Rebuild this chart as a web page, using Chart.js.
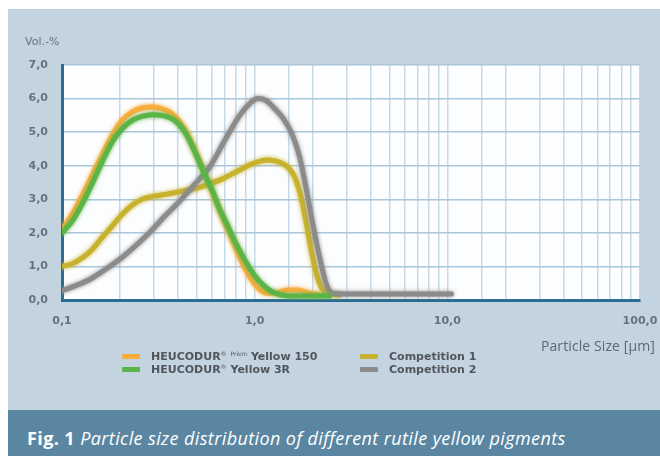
<!DOCTYPE html>
<html>
<head>
<meta charset="utf-8">
<script src="https://cdn.jsdelivr.net/npm/chart.js@4/dist/chart.umd.min.js"></script>
<style>
  html, body { margin: 0; padding: 0; background: #ffffff; }
  body { width: 660px; height: 456px; position: relative; overflow: hidden; font-family: "DejaVu Sans", sans-serif; }
  #panel { position: absolute; left: 8px; top: 9px; width: 652px; height: 401px; background: #c3d3df; }
  #band { position: absolute; left: 8px; top: 410px; width: 652px; height: 46px; background: #5b86a2; }
  #caption { position: absolute; left: 27px; top: 426px; color: #ffffff; font-family: "Open Sans", sans-serif; font-size: 18px; letter-spacing: 0.4px; white-space: nowrap; }
  #caption b { font-weight: 700; font-style: normal; }
  #caption i { font-style: italic; }
  #chartBox { position: absolute; left: 0; top: 0; width: 660px; height: 410px; }
  #ytitle { position: absolute; left: 25px; top: 35px; font-size: 11px; color: #66727c; }
  #xtitle { position: absolute; right: 5px; top: 336px; font-family: "Open Sans", sans-serif; font-size: 14px; letter-spacing: 0.1px; color: #5d6871; }
  .leg { position: absolute; display: flex; align-items: center; font-size: 11px; font-weight: bold; color: #50565c; white-space: nowrap; }
  .leg .sw { width: 18px; height: 5px; margin-right: 11px; border-radius: 1px; }
  .leg sup { font-size: 6px; font-weight: normal; vertical-align: 4px; }
</style>
</head>
<body>
<div id="panel"></div>
<div id="band"></div>
<div id="caption"><b>Fig. 1</b> <i>Particle size distribution of different rutile yellow pigments</i></div>
<div id="chartBox"><canvas id="c" width="660" height="410"></canvas></div>
<div id="ytitle">Vol.-%</div>
<div id="xtitle">Particle Size [µm]</div>
<div id="legend"></div>
<script>
// Particle size (µm) and volume share (%) for each pigment
const y150Size = [0.1, 0.113, 0.127, 0.143, 0.161, 0.182, 0.205, 0.231, 0.26, 0.293, 0.33, 0.372, 0.409, 0.45, 0.495, 0.544, 0.599, 0.659, 0.725, 0.797, 0.877, 0.965, 1.06, 1.17, 1.32, 1.48, 1.67, 1.88, 2.17];
const y150Vol  = [2.1, 2.55, 3.1, 3.7, 4.3, 4.9, 5.35, 5.6, 5.72, 5.75, 5.7, 5.55, 5.3, 4.92, 4.4, 3.85, 3.25, 2.65, 2.1, 1.55, 1.02, 0.6, 0.32, 0.2, 0.22, 0.3, 0.3, 0.22, 0.15];

const y3rSize = [0.1, 0.113, 0.127, 0.143, 0.161, 0.182, 0.205, 0.231, 0.26, 0.293, 0.33, 0.372, 0.409, 0.45, 0.495, 0.544, 0.599, 0.659, 0.725, 0.797, 0.877, 0.965, 1.06, 1.17, 1.28, 1.45, 1.71, 2.45];
const y3rVol  = [2.0, 2.35, 2.85, 3.45, 4.1, 4.7, 5.1, 5.35, 5.47, 5.52, 5.5, 5.4, 5.2, 4.85, 4.35, 3.8, 3.3, 2.7, 2.2, 1.7, 1.25, 0.85, 0.55, 0.33, 0.2, 0.13, 0.12, 0.12];

const comp1Size = [0.1, 0.113, 0.127, 0.143, 0.161, 0.182, 0.205, 0.231, 0.26, 0.293, 0.33, 0.372, 0.419, 0.472, 0.532, 0.599, 0.675, 0.76, 0.856, 0.965, 1.06, 1.17, 1.28, 1.41, 1.52, 1.63, 1.75, 1.86, 1.97, 2.1, 2.23, 2.39, 2.76];
const comp1Vol  = [1.0, 1.08, 1.25, 1.5, 1.85, 2.2, 2.55, 2.82, 3.0, 3.08, 3.13, 3.18, 3.24, 3.3, 3.38, 3.48, 3.6, 3.75, 3.9, 4.05, 4.13, 4.17, 4.14, 4.05, 3.9, 3.6, 3.0, 2.25, 1.45, 0.75, 0.35, 0.2, 0.15];

const comp2Size = [0.1, 0.117, 0.14, 0.167, 0.2, 0.239, 0.286, 0.342, 0.409, 0.489, 0.585, 0.699, 0.836, 0.942, 1.036, 1.14, 1.28, 1.41, 1.56, 1.71, 1.84, 2.0, 2.17, 2.36, 2.54, 2.93, 10.5];
const comp2Vol  = [0.28, 0.42, 0.62, 0.9, 1.22, 1.6, 2.02, 2.5, 2.95, 3.45, 3.97, 4.75, 5.5, 5.85, 6.0, 5.95, 5.68, 5.4, 4.95, 4.27, 3.4, 2.28, 1.29, 0.45, 0.2, 0.18, 0.18];

const seriesNames = ['HEUCODUR® Prism Yellow 150', 'HEUCODUR® Yellow 3R', 'Competition 1', 'Competition 2'];
const seriesColors = ['#f8ad3e', '#5ab447', '#c7b22e', '#8b8b8b'];

const xDecades = [0.1, 1, 10, 100];
const xTickLabels = ['0,1', '1,0', '10,0', '100,0'];
const yTickValues = [0, 1, 2, 3, 4, 5, 6, 7];
const yTickLabels = ['0,0', '1,0', '2,0', '3,0', '4,0', '5,0', '6,0', '7,0'];

const toPoints = (xs, ys) => xs.map((x, i) => ({ x: x, y: ys[i] }));

function lineSet(idx, xs, ys, order) {
  return {
    label: seriesNames[idx],
    data: toPoints(xs, ys),
    borderColor: seriesColors[idx],
    backgroundColor: seriesColors[idx],
    borderWidth: 5,
    pointRadius: 0,
    cubicInterpolationMode: 'monotone',
    borderCapStyle: 'round',
    borderJoinStyle: 'round',
    showLine: true,
    fill: false,
    order: order
  };
}

// white plot area
const plotBackground = {
  id: 'plotBackground',
  beforeDraw(chart) {
    const a = chart.chartArea, ctx = chart.ctx;
    ctx.save();
    ctx.fillStyle = '#fcfdfe';
    ctx.fillRect(a.left, a.top, a.right - a.left, a.bottom - a.top);
    ctx.restore();
  }
};

// soft halo round each curve
const curveGlow = {
  id: 'curveGlow',
  beforeDatasetDraw(chart, args) {
    const ctx = chart.ctx;
    ctx.save();
    ctx.shadowColor = args.meta.dataset.options.borderColor;
    ctx.shadowBlur = 4;
  },
  afterDatasetDraw(chart) {
    chart.ctx.restore();
  }
};

const tickFont = { family: 'DejaVu Sans', size: 11, weight: 'bold' };

const chart = new Chart(document.getElementById('c'), {
  type: 'scatter',
  data: {
    datasets: [
      lineSet(0, y150Size, y150Vol, 3),
      lineSet(1, y3rSize, y3rVol, 0),
      lineSet(2, comp1Size, comp1Vol, 2),
      lineSet(3, comp2Size, comp2Vol, 1)
    ]
  },
  options: {
    responsive: false,
    animation: false,
    layout: { padding: { left: 0, top: 65, right: 20, bottom: 80 } },
    plugins: { legend: { display: false }, tooltip: { enabled: false } },
    scales: {
      x: {
        type: 'logarithmic',
        min: 0.1,
        max: 100,
        afterFit(s) { s.height = 30; s.paddingLeft = 0; s.paddingRight = 0; },
        border: { display: true, color: '#2c6d93', width: 3 },
        grid: {
          drawTicks: false,
          lineWidth: 1.5,
          color: '#c6d9e7'
        },
        ticks: {
          autoSkip: false,
          maxRotation: 0,
          padding: 15,
          color: '#66727b',
          font: tickFont,
          callback: (v) => {
            const k = xDecades.findIndex(d => Math.abs(d - v) < 1e-9);
            return k >= 0 ? xTickLabels[k] : '';
          }
        }
      },
      y: {
        min: 0,
        max: 7,
        afterFit(s) { s.width = 62; s.paddingTop = 0; s.paddingBottom = 0; },
        afterBuildTicks(s) { s.ticks = yTickValues.map(v => ({ value: v })); },
        border: { display: true, color: '#2c6d93', width: 3 },
        grid: { drawTicks: false, lineWidth: 1.5, color: '#a9c6da' },
        ticks: {
          padding: 14,
          color: '#66727b',
          font: tickFont,
          callback: (v) => yTickLabels[yTickValues.indexOf(v)]
        }
      }
    }
  },
  plugins: [plotBackground, curveGlow]
});

// legend in two columns, built from the datasets
const legendPos = [
  { left: 122, top: 350 },
  { left: 122, top: 363 },
  { left: 360, top: 350 },
  { left: 360, top: 363 }
];
const legendHtml = [
  'HEUCODUR<sup>®</sup> <sup>Prism</sup> Yellow 150',
  'HEUCODUR<sup>®</sup> Yellow 3R',
  'Competition 1',
  'Competition 2'
];
const legendEl = document.getElementById('legend');
chart.data.datasets.forEach((ds, i) => {
  const d = document.createElement('div');
  d.className = 'leg';
  d.style.left = legendPos[i].left + 'px';
  d.style.top = legendPos[i].top + 'px';
  d.innerHTML = '<span class="sw" style="background:' + ds.borderColor + '"></span><span>' + legendHtml[i] + '</span>';
  legendEl.appendChild(d);
});
</script>
</body>
</html>
